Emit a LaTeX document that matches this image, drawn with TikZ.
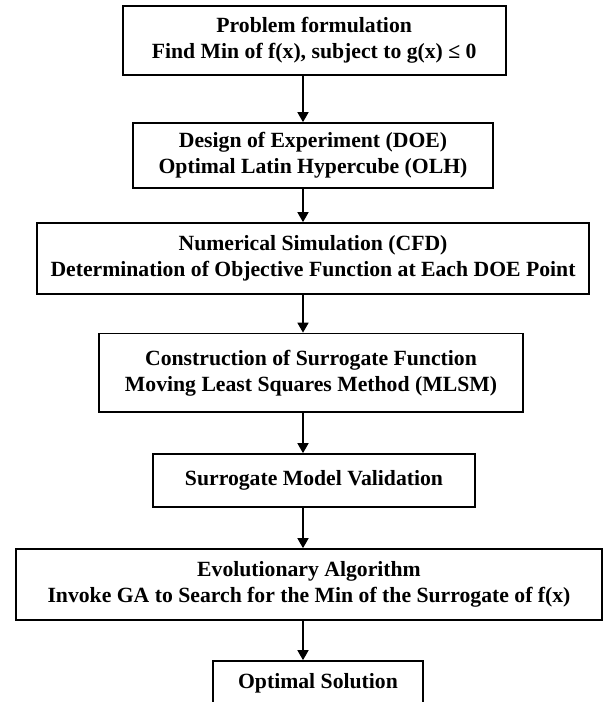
\documentclass[tikz,border=0pt]{standalone}
\usepackage{fontspec}
\setmainfont{Liberation Serif}
\usetikzlibrary{arrows.meta}
\begin{document}
\begin{tikzpicture}[x=1pt,y=-1pt,
  box/.style={draw, line width=1.7pt, fill=white, inner sep=0pt, align=center,
    font=\fontsize{21.7}{26}\selectfont\bfseries},
  arr/.style={line width=1.6pt, -{Triangle[length=10pt,width=11pt]}}]
\useasboundingbox (0,0) rectangle (610,702);
\coordinate (ax) at (303,0);
\node[box, minimum width=383, minimum height=69] (b1) at (314.2,40.5)
  {Problem formulation\\Find Min of f(x), subject to g(x) ≤ 0};
\node[box, minimum width=360, minimum height=65] (b2) at (313,155.5)
  {Design of Experiment (DOE)\\Optimal Latin Hypercube (OLH)};
\node[box, minimum width=552, minimum height=71] (b3) at (313,258.5)
  {Numerical Simulation (CFD)\\Determination of Objective Function at Each DOE Point};
\node[box, minimum width=424, minimum height=78.5] (b4) at (311,372.75)
  {Construction of Surrogate Function\\Moving Least Squares Method (MLSM)};
\node[box, minimum width=322, minimum height=53] (b5) at (314,480.5)
  {Surrogate Model Validation};
\node[box, minimum width=586, minimum height=71] (b6) at (309,584.5)
  {Evolutionary Algorithm\\Invoke GA to Search for the Min of the Surrogate of f(x)};
\node[box, minimum width=210, minimum height=44] (b7) at (318,683)
  {Optimal Solution};
\foreach \a/\b in {b1/b2,b2/b3,b3/b4,b4/b5,b5/b6,b6/b7}
  \draw[arr] (\a.south -| ax) -- (\b.north -| ax);
\end{tikzpicture}
\end{document}
